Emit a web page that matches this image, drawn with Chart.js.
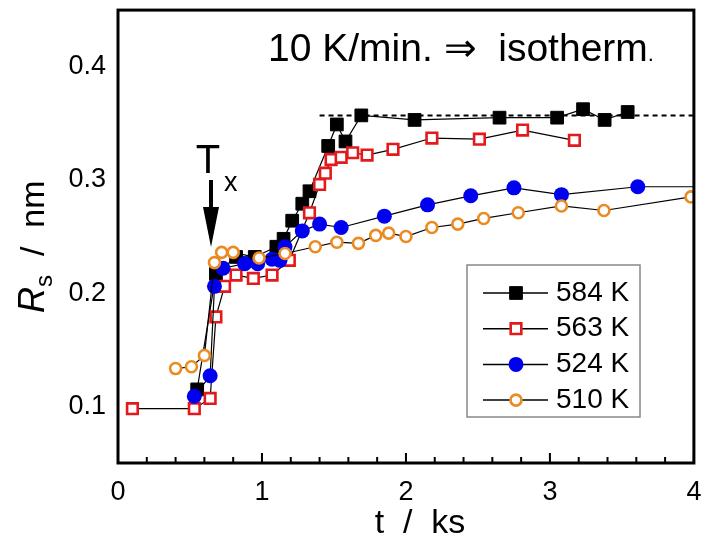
<!DOCTYPE html>
<html>
<head>
<meta charset="utf-8">
<script src="https://cdn.jsdelivr.net/npm/chart.js@4.4.0/dist/chart.umd.min.js"></script>
<style>
  html, body { margin: 0; padding: 0; background: #fff; }
  canvas { display: block; }
</style>
</head>
<body>
<canvas id="rs-chart" width="704" height="547"></canvas>
<script>
// time in ks, radius in nm
const T584 = [0.55, 0.68, 0.82, 0.95, 1.10, 1.15, 1.21, 1.28, 1.33, 1.46, 1.52, 1.58, 1.69, 2.06, 2.65, 3.05, 3.23, 3.38, 3.54];
const R584 = [0.115, 0.217, 0.232, 0.232, 0.241, 0.248, 0.264, 0.279, 0.290, 0.330, 0.349, 0.334, 0.357, 0.353, 0.355, 0.355, 0.3625, 0.353, 0.360];

const T563 = [0.10, 0.53, 0.64, 0.68, 0.74, 0.82, 0.94, 1.07, 1.19, 1.33, 1.40, 1.44, 1.48, 1.55, 1.63, 1.73, 1.91, 2.18, 2.51, 2.81, 3.17];
const R563 = [0.098, 0.098, 0.107, 0.179, 0.206, 0.216, 0.213, 0.216, 0.229, 0.271, 0.296, 0.306, 0.318, 0.320, 0.324, 0.322, 0.327, 0.337, 0.336, 0.344, 0.335];

const T524 = [0.53, 0.64, 0.67, 0.73, 0.88, 0.97, 1.07, 1.125, 1.16, 1.28, 1.40, 1.55, 1.85, 2.15, 2.45, 2.75, 3.08, 3.61, 4.10];
const R524 = [0.109, 0.127, 0.206, 0.222, 0.226, 0.226, 0.230, 0.229, 0.241, 0.255, 0.261, 0.258, 0.268, 0.278, 0.286, 0.293, 0.287, 0.294, 0.294];

const T510 = [0.40, 0.51, 0.60, 0.67, 0.72, 0.80, 0.98, 1.16, 1.37, 1.52, 1.67, 1.79, 1.88, 2.00, 2.18, 2.36, 2.54, 2.78, 3.08, 3.375, 3.98];
const R510 = [0.1334, 0.135, 0.145, 0.227, 0.236, 0.236, 0.231, 0.235, 0.241, 0.245, 0.244, 0.251, 0.253, 0.250, 0.258, 0.261, 0.266, 0.271, 0.277, 0.273, 0.285];

// plateau level of the 584 K run
const PLATEAU_T = [1.40, 4.0];
const PLATEAU_R = [0.357, 0.357];

const X_MAJOR = [0, 1, 2, 3, 4];
const X_LABELS = ['0', '1', '2', '3', '4'];
const Y_MAJOR = [0.1, 0.2, 0.3, 0.4];
const Y_LABELS = ['0.1', '0.2', '0.3', '0.4'];

const SERIES_NAMES = ['584 K', '563 K', '524 K', '510 K'];

const FONT = '"Liberation Sans", Arial, sans-serif';

const pts = (ts, rs) => ts.map((t, i) => ({ x: t, y: rs[i] }));

function text(ctx, str, x, y, size, opts = {}) {
  ctx.save();
  ctx.font = `${opts.italic ? 'italic ' : ''}${size}px ${FONT}`;
  ctx.fillStyle = '#000';
  ctx.textAlign = opts.align || 'left';
  ctx.textBaseline = opts.baseline || 'alphabetic';
  ctx.translate(x, y);
  if (opts.rotate) ctx.rotate(opts.rotate);
  ctx.scale(opts.sx || 1, 1);
  ctx.fillText(str, 0, 0);
  const w = ctx.measureText(str).width * (opts.sx || 1);
  ctx.restore();
  return w;
}

function marker(ctx, ds, x, y) {
  ctx.save();
  ctx.fillStyle = ds.pointBackgroundColor;
  ctx.strokeStyle = ds.pointBorderColor;
  ctx.lineWidth = ds.pointBorderWidth;
  ctx.beginPath();
  if (ds.pointStyle === 'rect') {
    const h = Math.SQRT1_2 * ds.pointRadius;
    ctx.rect(x - h, y - h, 2 * h, 2 * h);
  } else {
    ctx.arc(x, y, ds.pointRadius, 0, Math.PI * 2);
  }
  ctx.fill();
  if (ds.pointBorderWidth > 0) ctx.stroke();
  ctx.restore();
}

const decorations = {
  id: 'decorations',
  afterDraw(chart) {
    const { ctx, chartArea: a } = chart;
    const xs = chart.scales.x, ys = chart.scales.y;

    // frame
    ctx.save();
    ctx.strokeStyle = '#000';
    ctx.lineWidth = 3;
    ctx.strokeRect(a.left, a.top, a.right - a.left, a.bottom - a.top);

    // inward ticks, minor every 0.2 ks / 0.02 nm
    ctx.lineWidth = 2;
    ctx.beginPath();
    xs.ticks.forEach(tk => {
      const v = tk.value;
      if (Math.abs(v / 0.2 - Math.round(v / 0.2)) > 1e-6) return;
      const major = Math.abs(v - Math.round(v)) < 1e-6;
      const px = xs.getPixelForValue(v);
      ctx.moveTo(px, a.bottom);
      ctx.lineTo(px, a.bottom - (major ? 10 : 6));
    });
    ys.ticks.forEach(tk => {
      const v = tk.value;
      if (Math.abs(v / 0.02 - Math.round(v / 0.02)) > 1e-6) return;
      const major = Math.abs(v / 0.1 - Math.round(v / 0.1)) < 1e-6;
      const py = ys.getPixelForValue(v);
      ctx.moveTo(a.left, py);
      ctx.lineTo(a.left + (major ? 10 : 6), py);
    });
    ctx.stroke();
    ctx.restore();

    // tick labels
    X_MAJOR.forEach((v, i) => {
      text(ctx, X_LABELS[i], xs.getPixelForValue(v), 493, 27, { align: 'center', baseline: 'middle' });
    });
    Y_MAJOR.forEach((v, i) => {
      text(ctx, Y_LABELS[i], 106, ys.getPixelForValue(v), 27, { align: 'right', baseline: 'middle' });
    });

    // axis titles
    text(ctx, 't  /  ks', 420, 524, 34, { align: 'center', baseline: 'middle' });
    ctx.save();
    ctx.translate(32, 313);
    ctx.rotate(-Math.PI / 2);
    let cx = 0;
    cx += text(ctx, 'R', cx, 12, 36, { italic: true });
    cx += text(ctx, 's', cx, 20, 24);
    text(ctx, '  /  nm', cx, 12, 34);
    ctx.restore();

    // heading inside the frame
    let hx = 268;
    hx += text(ctx, '10 K/min. \u21D2  isotherm', hx, 61, 39);
    text(ctx, '.', hx, 61, 22);

    // crystallisation onset marker
    text(ctx, 'T', 208, 173, 40, { align: 'center' });
    text(ctx, 'x', 224, 191, 27);
    ctx.save();
    ctx.fillStyle = '#000';
    ctx.fillRect(209, 180, 4, 30);
    ctx.beginPath();
    ctx.moveTo(203, 207);
    ctx.lineTo(219, 207);
    ctx.lineTo(211, 247);
    ctx.closePath();
    ctx.fill();
    ctx.restore();

    // legend box
    ctx.save();
    ctx.strokeStyle = '#888';
    ctx.lineWidth = 1.5;
    ctx.strokeRect(467, 265, 173, 152);
    chart.data.datasets.slice(0, 4).forEach((ds, i) => {
      const y = 293 + i * 35.7;
      ctx.strokeStyle = '#000';
      ctx.lineWidth = 1.5;
      ctx.beginPath();
      ctx.moveTo(483, y);
      ctx.lineTo(548, y);
      ctx.stroke();
      marker(ctx, ds, 516, y);
      text(ctx, SERIES_NAMES[i], 556, y, 28, { baseline: 'middle' });
    });
    ctx.restore();
  }
};

const lineStyle = { showLine: true, borderColor: '#000', borderWidth: 1.2, tension: 0 };

new Chart(document.getElementById('rs-chart'), {
  type: 'scatter',
  data: {
    datasets: [
      { ...lineStyle, label: SERIES_NAMES[0], data: pts(T584, R584), order: 4,
        pointStyle: 'rect', pointRadius: 9, pointBackgroundColor: '#000', pointBorderColor: '#000', pointBorderWidth: 1 },
      { ...lineStyle, label: SERIES_NAMES[1], data: pts(T563, R563), order: 3,
        pointStyle: 'rect', pointRadius: 7.5, pointBackgroundColor: '#fff', pointBorderColor: '#e3191c', pointBorderWidth: 2.6 },
      { ...lineStyle, label: SERIES_NAMES[2], data: pts(T524, R524), order: 2,
        pointStyle: 'circle', pointRadius: 7.5, pointBackgroundColor: '#0000f0', pointBorderColor: '#0000f0', pointBorderWidth: 0 },
      { ...lineStyle, label: SERIES_NAMES[3], data: pts(T510, R510), order: 1,
        pointStyle: 'circle', pointRadius: 5.5, pointBackgroundColor: '#fff', pointBorderColor: '#ec8a22', pointBorderWidth: 2.6 },
      { label: 'plateau', data: pts(PLATEAU_T, PLATEAU_R), order: 5, showLine: true,
        borderColor: '#000', borderWidth: 2, borderDash: [5, 4], pointRadius: 0 }
    ]
  },
  options: {
    responsive: false,
    animation: false,
    events: [],
    layout: { padding: { top: 9, right: 10, left: 0, bottom: 0 } },
    plugins: { legend: { display: false }, tooltip: { enabled: false } },
    scales: {
      x: {
        type: 'linear', min: 0, max: 4,
        ticks: { display: false, stepSize: 0.2 },
        grid: { display: false, drawTicks: false },
        border: { display: false },
        afterFit(s) { s.height = 84; }
      },
      y: {
        type: 'linear', min: 0.05, max: 0.45,
        ticks: { display: false, stepSize: 0.02 },
        grid: { display: false, drawTicks: false },
        border: { display: false },
        afterFit(s) { s.width = 118; }
      }
    }
  },
  plugins: [decorations]
});
</script>
</body>
</html>
